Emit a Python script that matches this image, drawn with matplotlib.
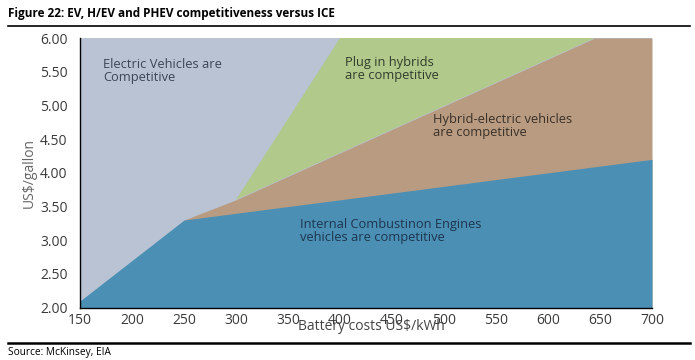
import matplotlib
matplotlib.use("Agg")
import matplotlib.pyplot as plt
from matplotlib.lines import Line2D

plt.rcParams['font.family'] = ['Open Sans', 'DejaVu Sans']

# Data: region boundaries
ice_x = [150, 250, 700]
ice_y = [2.1, 3.3, 4.2]
hev_x = [250, 300, 645, 700]
hev_y = [3.3, 3.6, 6.0, 6.0]
phev_x = [300, 400, 645]
phev_y = [3.6, 6.0, 6.0]

x_ticks = [150, 200, 250, 300, 350, 400, 450, 500, 550, 600, 650, 700]
y_ticks = [2.0, 2.5, 3.0, 3.5, 4.0, 4.5, 5.0, 5.5, 6.0]
x_min, x_max, y_min, y_max = 150, 700, 2.0, 6.0

c_ev = '#b9c3d3'
c_phev = '#b1c98b'
c_hev = '#b89b81'
c_ice = '#4b8fb4'

fig = plt.figure(figsize=(6.95, 3.6), dpi=100)
ax = fig.add_axes([80/695, 1-307.7/360, (652-80)/695, (307.7-38)/360])
ax.set_facecolor(c_ev)

ax.fill(phev_x, phev_y, color=c_phev, lw=0)
ax.fill_between(hev_x, hev_y, y_min, color=c_hev, lw=0)
ax.fill_between(ice_x, ice_y, y_min, color=c_ice, lw=0)

ax.set_xlim(x_min, x_max)
ax.set_ylim(y_min, y_max)
ax.set_xticks(x_ticks)
ax.set_xticklabels([str(v) for v in x_ticks])
ax.set_yticks(y_ticks)
ax.set_yticklabels([f"{v:.2f}" for v in y_ticks])
ax.tick_params(length=0, labelsize=10, colors='#3a3a3a', pad=9)
ax.tick_params(axis='x', pad=4)
for s in ['top', 'right']:
    ax.spines[s].set_visible(False)
for s in ['left', 'bottom']:
    ax.spines[s].set_color('black')
    ax.spines[s].set_linewidth(1.0)

ax.set_ylabel('US$/gallon', fontsize=10, color='#666666', labelpad=2)
fig.text(371/695, 1-326/360, 'Battery costs US$/kWh', fontsize=10, color='#444444',
         ha='center', va='center')

ax.text(103/695, 1-58/360, 'Electric Vehicles are\nCompetitive', transform=fig.transFigure,
        fontsize=9.3, color='#3a4656', va='top', ha='left', linespacing=1.0)
ax.text(345/695, 1-56/360, 'Plug in hybrids\nare competitive', transform=fig.transFigure,
        fontsize=9.3, color='#2f3d2c', va='top', ha='left', linespacing=1.0)
ax.text(433/695, 1-113/360, 'Hybrid-electric vehicles\nare competitive', transform=fig.transFigure,
        fontsize=9.3, color='#3a3028', va='top', ha='left', linespacing=1.0)
ax.text(300/695, 1-218/360, 'Internal Combustinon Engines\nvehicles are competitive', transform=fig.transFigure,
        fontsize=9.3, color='#1c3650', va='top', ha='left', linespacing=1.0)

fig.text(8/695, 1-13/360, 'Figure 22: EV, H/EV and PHEV competitiveness versus ICE',
         fontsize=8.5, fontweight='bold', color='black', ha='left', va='center')
fig.add_artist(Line2D([8/695, 690/695], [1-26/360, 1-26/360], color='black', lw=1.2,
                      transform=fig.transFigure))
fig.add_artist(Line2D([8/695, 690/695], [1-343/360, 1-343/360], color='black', lw=1.8,
                      transform=fig.transFigure))
fig.text(8/695, 1-352/360, 'Source: McKinsey, EIA', fontsize=7.3, color='black',
         ha='left', va='center')

fig.savefig('out.png', dpi=100)
